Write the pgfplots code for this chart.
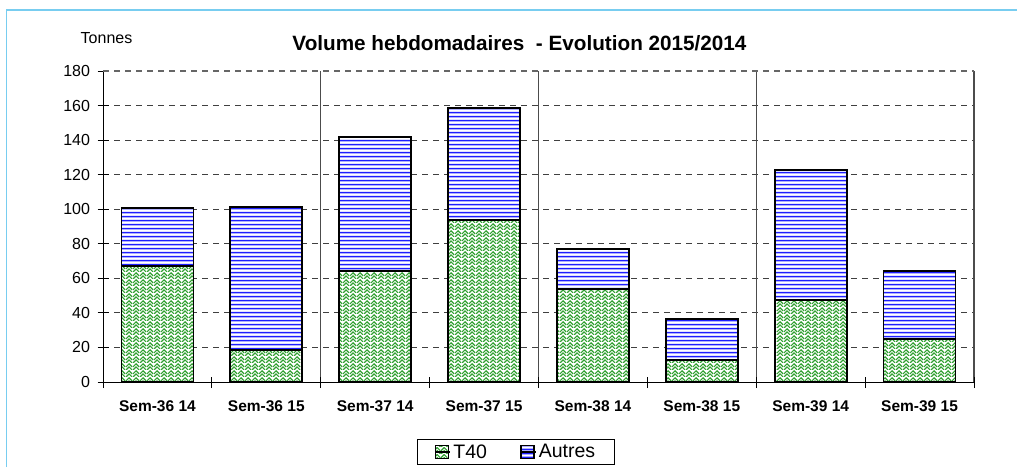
\documentclass[border=0pt]{standalone}
\usepackage{pgfplots}
\pgfplotsset{compat=1.18}
\usepackage{fontspec}
\setmainfont{Liberation Sans}
\usetikzlibrary{patterns}

\definecolor{TFgreen}{RGB}{50,160,50}
\definecolor{Bblue}{RGB}{30,30,255}
\definecolor{framecol}{RGB}{120,205,240}

\pgfdeclarepatternformonly{hstripes}{\pgfpointorigin}{\pgfqpoint{1100pt}{4.4pt}}{\pgfqpoint{1100pt}{4.4pt}}{%
  \pgfpathrectangle{\pgfqpoint{0pt}{0.6pt}}{\pgfqpoint{1100pt}{1.9pt}}\pgfusepath{fill}}
\pgfdeclarepatternformonly{weave}{\pgfqpoint{0pt}{0pt}}{\pgfqpoint{7pt}{7pt}}{\pgfqpoint{7pt}{7pt}}{%
  \pgfsetlinewidth{1.3pt}%
  \pgfpathmoveto{\pgfqpoint{0pt}{0pt}}\pgfpathlineto{\pgfqpoint{3.5pt}{3.5pt}}\pgfpathlineto{\pgfqpoint{7pt}{0pt}}%
  \pgfpathmoveto{\pgfqpoint{0pt}{3.5pt}}\pgfpathlineto{\pgfqpoint{3.5pt}{7pt}}\pgfpathlineto{\pgfqpoint{7pt}{3.5pt}}%
  \pgfusepath{stroke}}

\begin{document}
\begin{tikzpicture}
\useasboundingbox (0,0) rectangle (1017pt,467pt);
\fill[white] (0,0) rectangle (1017pt,467pt);
\draw[framecol, line width=1.5pt] (6.5pt,0pt) -- (6.5pt,457pt) -- (1017pt,457pt);

\begin{axis}[
  at={(103pt,85pt)}, anchor=south west, scale only axis,
  width=871pt, height=311pt,
  xmin=-0.5, xmax=7.5, ymin=0, ymax=180,
  enlarge x limits=false, enlarge y limits=false,
  clip=false,
  ybar stacked, bar width=72pt,
  axis x line*=bottom, axis y line*=left,
  axis line style={-, line width=1pt, black},
  ytick={0,20,...,180},
  tick align=center, major tick length=11pt,
  ytick style={line width=1pt, black},
  xtick={0,...,7},
  xticklabels={Sem-36 14,Sem-36 15,Sem-37 14,Sem-37 15,Sem-38 14,Sem-38 15,Sem-39 14,Sem-39 15},
  xtick style={draw=none},
  ymajorgrids,
  grid style={black!75, line width=0.9pt, dash pattern=on 6pt off 5pt},
  /pgf/number format/assume math mode=true,
  yticklabel style={font=\fontsize{16}{18}\selectfont, xshift=-4pt},
  xticklabel style={font=\bfseries\fontsize{15.5}{18}\selectfont, yshift=-10pt},
  legend style={at={(0.474,-0.225)}, anchor=center, draw=black, line width=1pt,
    font=\fontsize{19.5}{22}\selectfont, inner xsep=17.5pt, inner ysep=3pt,
    /tikz/every even column/.append style={column sep=31pt}},
  legend columns=2,
  legend image code/.code={\draw[#1, line width=0.6pt] (0pt,-6.5pt) rectangle (13pt,6.5pt); \path (0pt,0pt) -- (15pt,0pt);},
]
\addplot[draw=black, line width=1.8pt, preaction={fill=white}, preaction={pattern=weave, pattern color=TFgreen}]
  coordinates {(0,67.3) (1,18.3) (2,64.2) (3,93.8) (4,53.6) (5,12.9) (6,47.6) (7,24.7)};
\addplot[draw=black, line width=1.8pt, preaction={fill=white}, preaction={pattern=hstripes, pattern color=Bblue}]
  coordinates {(0,33.2) (1,83.0) (2,77.8) (3,64.9) (4,23.6) (5,23.6) (6,74.9) (7,39.5)};
\legend{T40, Autres}
\pgfplotsinvokeforeach{-0.5,0.5,1.5,2.5,3.5,4.5,5.5,6.5,7.5}{
  \draw[black, line width=1pt] ([yshift=-6pt]axis cs:#1,0) -- ([yshift=5pt]axis cs:#1,0);
}
\draw[black!60, line width=1.2pt, dash pattern=on 6pt off 5pt] (axis cs:-0.5,180) -- (axis cs:7.5,180);
\pgfplotsinvokeforeach{1.5,3.5,5.5,7.5}{
  \draw[black!70, line width=1.2pt] (axis cs:#1,0) -- (axis cs:#1,180);
}
\end{axis}

\node[anchor=base, font=\bfseries\fontsize{20.7}{24}\selectfont] at (519.5pt,416pt) {Volume hebdomadaires~ - Evolution 2015/2014};
\node[anchor=base, font=\fontsize{16}{18}\selectfont] at (106.5pt,423pt) {Tonnes};
\end{tikzpicture}
\end{document}
